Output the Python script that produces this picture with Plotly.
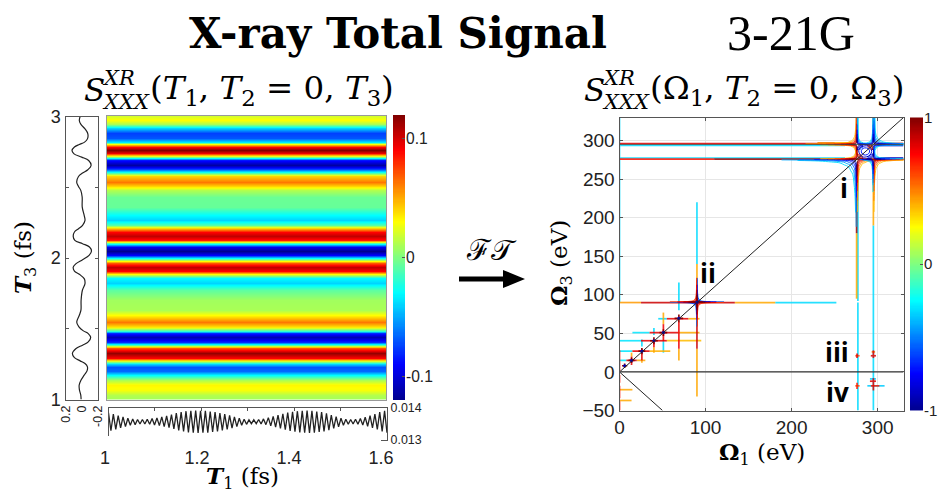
import numpy as np
import plotly.graph_objects as go

W, H = 941, 492

# ---- left panel data ----
T3_FS = [1.000,1.031,1.066,1.101,1.136,1.172,1.202,1.231,1.254,1.273,1.296,1.325,1.360,1.384,1.407,1.438,1.466,1.485,
         1.513,1.548,1.595,1.631,1.701,1.772,1.819,1.854,1.885,1.908,1.936,1.960,1.988,2.019,2.049,2.078,2.101,2.125,
         2.153,2.184,2.207,2.231,2.266,2.301,2.360,2.431,2.478,2.506,2.536,2.576,2.600,2.624,2.654,2.689,2.713,2.736,
         2.760,2.784,2.802,2.819,2.842,2.878,2.913,2.944,2.972,3.000]
SIGNAL_T3 = [.008,.012,.028,.032,.010,-.030,-.065,-.070,-.040,.020,.090,.115,.070,-.010,-.080,-.110,-.080,-.020,
             .035,.062,.030,.010,.008,-.008,-.040,-.030,.030,.090,.105,.070,-.010,-.090,-.120,-.095,-.010,.085,
             .105,.090,.040,-.010,-.040,-.030,-.006,-.005,.012,.040,.062,.040,-.010,-.075,-.115,-.085,.000,.095,
             .120,.090,.030,-.035,-.070,-.075,-.040,.010,.030,.020]
T1_RANGE = [1.0, 1.6]
T1_TICKS = [1, 1.2, 1.4, 1.6]
T1_LABELS = ["1", "1.2", "1.4", "1.6"]
STRIP_TOP = [13.85,13.81,13.76,13.72,13.68,13.66,13.64,13.64,13.65,13.67,13.69,13.72,13.75,13.79,13.84,13.87,13.90,13.91,13.92,13.91,
             13.91,13.89,13.87,13.84,13.81,13.77,13.72,13.68,13.65,13.63,13.63,13.64,13.66,13.70,13.74,13.78,13.82,13.86,13.88,13.90,
             13.91,13.92,13.91,13.89,13.87,13.83,13.78,13.73,13.68,13.65,13.64,13.65,13.67,13.71,13.76,13.81,13.87,13.91]
STRIP_BOTTOM = [13.29,13.33,13.38,13.42,13.46,13.48,13.50,13.50,13.49,13.47,13.45,13.42,13.39,13.35,13.30,13.27,13.24,13.23,13.22,13.23,
                13.23,13.25,13.27,13.30,13.33,13.37,13.42,13.46,13.49,13.51,13.51,13.50,13.48,13.44,13.40,13.36,13.32,13.28,13.26,13.24,
                13.23,13.22,13.23,13.25,13.27,13.31,13.36,13.41,13.46,13.49,13.50,13.49,13.47,13.43,13.38,13.33,13.27,13.23]

# ---- right panel data: (fixed coordinate, start, end, signal amplitude) ----
H_SEGMENTS = [
    (90,0,25,.45),(90,25,134,.85),(90,134,181,.42),(90,181,252,-.32),
    (69,45,55,-.32),(69,55,80,.8),(69,80,93,.42),
    (51,15,35,-.3),(51,35,68,.8),(51,68,93,.42),
    (40.5,0,25,-.3),(40.5,25,55,.8),(40.5,55,95,.38),
    (27,0,15,-.3),(27,15,35,.8),(27,35,59,.4),
    (15,0,8,-.3),(15,8,20,.85),(15,20,30,.42),
    (-23,0,15,.42),(-37,0,14,.42),
    (276,0,110,.72),(276,110,262,.95),(276,262,330,.95),(277.5,0,262,-.32),(277.5,300,330,-.9),
    (296.3,0,250,.82),(297,230,270,.42),(293.7,0,262,-.32),(296.3,300,330,.88),(293.7,300,330,-.9),
    (21,274,279,.6),(21,292,298,.8),(26,293,297,.5),
    (-18,274,279,.6),(-18,288,308,-.35),(-18,292,302,.7),(-12,291,298,.8),(-9,291,298,-.35),
]
V_SEGMENTS = [
    (90,140,220,-.32),(90,120,140,.42),(90,30,120,.85),(90,-32,30,.42),
    (69,80,116,-.32),(69,30,65,.78),(69,15,30,.42),
    (51,62,77,.42),(51,40,62,.78),(51,25,40,-.32),
    (40,48,57,-.32),(40,32,40,.78),(40,25,32,.42),
    (26,33,42,-.32),(26,15,30,.8),(26,12,15,.42),
    (14,20,25,.42),(14,9,20,.8),
    (0,90,330,-.32),(0,0,28,.72),(0,-14,-4,.72),(0,-34,-18,.72),(0,-50,-38,.72),
    (277,-50,90,-.32),(277,92,262,-.32),(275.5,95,180,.42),(275.5,180,268,.95),(277,298,330,-.32),(275.5,298,330,.8),
    (295,-50,190,-.32),(295,190,245,.42),(295,245,270,.88),(296.5,298,330,-.32),(295,298,330,.92),
    (276,18,24,.8),(295,18,28,.8),(276,-22,-14,.7),(295,-24,-8,.8),
]
ARM_DX = [0.5,0.7,1,1.5,2,3,4,6,8,12,18,28,45]
ARM_DY = [45,28,18,12,8,6,4,3,2,1.5,1,0.7,0.5]
LEVEL_SCALE = [1.9,1.5,1.15,.85,.6,.4]
NEG_LEVELS = [-.32,-.42,-.55,-.7,-.85,-1]
POS_LEVELS = [.38,.5,.65,.8,.9,1]
# centre x, centre y, x side, y side, sign, reach in x, reach in y, spread
CROSSINGS = [
    (276,276,-1,-1,-1,99,99,1.3),(276,276,1,-1,1,99,99,.8),(276,276,-1,1,1,99,17,.5),(276,276,1,1,1,8,8,1),
    (295,295,1,1,-1,99,99,.8),(295,295,-1,1,-1,17,99,.5),(295,295,1,-1,-1,99,17,.5),(295,295,-1,-1,1,8,8,1),
    (276,295,-1,1,1,99,99,.7),(276,295,1,1,-1,17,99,.5),(276,295,-1,-1,1,99,17,.5),(276,295,1,-1,-1,8,8,1),
    (295,276,1,-1,1,99,99,.8),(295,276,-1,-1,-1,17,99,.5),(295,276,1,1,-1,99,17,.5),(295,276,-1,1,-1,8,8,1),
]
PEAK_90_SCALE = [.7,.5,.35,.22]
ELLIPSE_X = [278,280,284,289,292,293,291,287,282,279,278]
ELLIPSE_Y = [287,291,293,293,290,286,281,279,279,283,287]
ELLIPSE2_X = [281,283,287,290,290.5,288,284,281.5,281]
ELLIPSE2_Y = [287,290,290.5,288.5,285,282,281.5,284,287]
DIAG_PEAKS_X = [6,14,26,40,51,69,90]
DIAG_PEAKS_Y = [8,15,27,40.5,51,69.5,90.5]
DIAG_ARM = [3,3.5,4,4.5,4.5,5,7]
SPEC_XTICKS = [0,100,200,300]
SPEC_YTICKS = [-50,0,50,100,150,200,250,300]
CBAR1_TICKS = [-.1, 0, .1]
CBAR1_LABELS = ["-0.1", "0", "0.1"]
CBAR2_TICKS = [-1, 0, 1]
CBAR2_LABELS = ["-1", "0", "1"]
FONT_SANS = "Liberation Sans"
FONT_SERIF = "DejaVu Serif"
JET = [[0,"#00008f"],[.125,"#0000ff"],[.375,"#00ffff"],[.625,"#ffff00"],[.875,"#ff0000"],[1,"#800000"]]


def jet(a):
    t = (a + 1) / 2
    rgb = [(0,0,143),(0,0,255),(0,255,255),(255,255,0),(255,0,0),(128,0,0)]
    pos = [c[0] for c in JET]
    ch = [int(np.interp(t, pos, [c[i] for c in rgb])) for i in range(3)]
    return f"rgb({ch[0]},{ch[1]},{ch[2]})"


def px_x(a, b):
    return [a / W, b / W]


def px_y(top, bottom):
    return [1 - bottom / H, 1 - top / H]


fig = go.Figure()

# heat map
fig.add_trace(go.Heatmap(x=T1_RANGE, y=T3_FS, z=[[v, v] for v in SIGNAL_T3], colorscale=JET, zmin=-.12, zmax=.12,
                         zsmooth="best", xaxis="x", yaxis="y", showscale=False, hoverinfo="skip"))
# left strip
fig.add_trace(go.Scatter(x=SIGNAL_T3, y=T3_FS, mode="lines", line=dict(color="#222", width=1.2, shape="spline"),
                         xaxis="x2", yaxis="y2", showlegend=False))
# bottom strip
strip_v = []
for a, b in zip(STRIP_TOP, STRIP_BOTTOM):
    strip_v += [a * 1e-3, b * 1e-3]
fig.add_trace(go.Scatter(x=list(np.linspace(1, 1.6, len(strip_v))), y=strip_v, mode="lines",
                         line=dict(color="#222", width=1.3), xaxis="x3", yaxis="y3", showlegend=False))
# hidden trace that carries the shifted T1 labels
fig.add_trace(go.Scatter(x=T1_RANGE, y=[0, 1], mode="lines", line=dict(width=0), xaxis="x5", yaxis="y5",
                         showlegend=False, hoverinfo="skip"))
# colour bars as small heat maps on their own axes
cb1 = np.linspace(-.12, .12, 256)
fig.add_trace(go.Heatmap(x=[0, 1], y=list(cb1), z=[[v, v] for v in cb1], colorscale=JET, zmin=-.12, zmax=.12,
                         showscale=False, xaxis="x6", yaxis="y6", hoverinfo="skip"))
cb2 = np.linspace(-1, 1, 256)
fig.add_trace(go.Heatmap(x=[0, 1], y=list(cb2), z=[[v, v] for v in cb2], colorscale=JET, zmin=-1, zmax=1,
                         showscale=False, xaxis="x7", yaxis="y7", hoverinfo="skip"))

# spectrum: group everything by amplitude
groups = {}


def add_xy(a, xs, ys):
    g = groups.setdefault(a, ([], []))
    g[0].extend(list(xs) + [None])
    g[1].extend(list(ys) + [None])


for y, x0, x1, a in H_SEGMENTS:
    add_xy(a, [x0, x1], [y, y])
for x, y0, y1, a in V_SEGMENTS:
    add_xy(a, [x, x], [y0, y1])
for k, (a) in sorted(groups.items(), key=lambda kv: abs(kv[0])):
    fig.add_trace(go.Scatter(x=a[0], y=a[1], mode="lines", opacity=.85, line=dict(color=jet(k), width=1.7),
                             xaxis="x4", yaxis="y4", showlegend=False, hoverinfo="skip"))

# contour arms
for cx, cy, sx, sy, sign, rx, ry, spread in CROSSINGS:
    levels = NEG_LEVELS if sign < 0 else POS_LEVELS
    for sc0, amp in zip(LEVEL_SCALE, levels):
        sc = sc0 * spread
        xs, ys = [], []
        for dx, dy in zip(ARM_DX, ARM_DY):
            if dx * sc <= rx and dy * sc <= ry:
                xs.append(cx + sx * dx * sc)
                ys.append(cy + sy * dy * sc)
        if len(xs) > 1:
            fig.add_trace(go.Scatter(x=xs, y=ys, mode="lines", line=dict(color=jet(amp), width=.9, shape="spline"),
                                     xaxis="x4", yaxis="y4", showlegend=False, hoverinfo="skip"))
for sx, sy, sign in [(-1, -1, -1), (1, 1, -1), (1, -1, 1), (-1, 1, 1)]:
    levels = NEG_LEVELS[2:] if sign < 0 else POS_LEVELS[2:]
    for sc, amp in zip(PEAK_90_SCALE, levels):
        fig.add_trace(go.Scatter(x=[90 + sx * d * sc for d in ARM_DX], y=[90.5 + sy * d * sc for d in ARM_DY],
                                 mode="lines", line=dict(color=jet(amp), width=1, shape="spline"),
                                 xaxis="x4", yaxis="y4", showlegend=False, hoverinfo="skip"))
fig.add_trace(go.Scatter(x=ELLIPSE_X, y=ELLIPSE_Y, mode="lines", line=dict(color=jet(-.9), width=1, shape="spline"),
                         xaxis="x4", yaxis="y4", showlegend=False, hoverinfo="skip"))
fig.add_trace(go.Scatter(x=ELLIPSE2_X, y=ELLIPSE2_Y, mode="lines", line=dict(color=jet(-.7), width=1, shape="spline"),
                         xaxis="x4", yaxis="y4", showlegend=False, hoverinfo="skip"))
# diagonal peak stars
for px, py, arm in zip(DIAG_PEAKS_X, DIAG_PEAKS_Y, DIAG_ARM):
    fig.add_trace(go.Scatter(x=[px - arm, px + arm, None, px, px], y=[py, py, None, py - arm, py + arm], mode="lines",
                             line=dict(color=jet(.98), width=1.6), xaxis="x4", yaxis="y4", showlegend=False,
                             hoverinfo="skip"))
    fig.add_trace(go.Scatter(x=[px], y=[py], mode="markers", marker=dict(color=jet(-.9), size=3),
                             xaxis="x4", yaxis="y4", showlegend=False, hoverinfo="skip"))
# reference lines
fig.add_trace(go.Scatter(x=[0, 330], y=[0, 330], mode="lines", line=dict(color="#222", width=1), xaxis="x4", yaxis="y4",
                         showlegend=False, hoverinfo="skip"))
fig.add_trace(go.Scatter(x=[0, 50], y=[0, -50], mode="lines", line=dict(color="#222", width=1), xaxis="x4", yaxis="y4",
                         showlegend=False, hoverinfo="skip"))
fig.add_trace(go.Scatter(x=[0, 330], y=[0, 0], mode="lines", line=dict(color="#333", width=1.3), xaxis="x4", yaxis="y4",
                         showlegend=False, hoverinfo="skip"))
fig.add_trace(go.Scatter(x=[0, 330], y=[295, 295], mode="lines", line=dict(color="#444", width=.8), xaxis="x4", yaxis="y4",
                         showlegend=False, hoverinfo="skip"))

FRAME = "#555"
GRAY = "#999"
tick_font = dict(family=FONT_SANS, size=18, color="#222")
spec_font = dict(family=FONT_SANS, size=19, color="#222")
small_font = dict(family=FONT_SANS, size=12.4, color="#222")
cb_font = dict(family=FONT_SANS, size=15.6, color="#222")
hidden = dict(showticklabels=False, ticks="", showline=False, showgrid=False, zeroline=False)
layout = dict(
    width=W, height=H, margin=dict(l=0, r=0, t=0, b=0, autoexpand=False), paper_bgcolor="white", plot_bgcolor="white",
    showlegend=False,
    xaxis=dict(domain=px_x(106.5, 386), range=[1, 1.6], anchor="y", showticklabels=False, ticks="", showline=True,
               mirror=True, linecolor=GRAY, linewidth=1, showgrid=False, zeroline=False),
    yaxis=dict(domain=px_y(116, 399.5), range=[1, 3], anchor="x", showticklabels=False, ticks="", showline=True,
               mirror=True, linecolor=GRAY, linewidth=1, showgrid=False, zeroline=False),
    xaxis2=dict(domain=px_x(65.5, 98), range=[.2, -.2], anchor="y2", tickvals=[.2, 0, -.2], ticktext=["0.2", "0", "-0.2"],
                tickangle=-90, tickfont=small_font, ticks="", showline=True, mirror=True, linecolor=FRAME, linewidth=1.2,
                showgrid=False, zeroline=False),
    yaxis2=dict(domain=px_y(116.5, 399.5), range=[1, 3], anchor="x2", tickvals=[1, 2, 3], tickfont=tick_font,
                ticks="inside", ticklen=3, tickcolor=FRAME, minor=dict(tickvals=[1.5, 2.5], ticks="inside", ticklen=3,
                tickcolor=FRAME), showline=True, mirror="allticks", linecolor=FRAME, linewidth=1.2, showgrid=False,
                zeroline=False),
    xaxis3=dict(domain=px_x(108.5, 387), range=[1, 1.6], anchor="y3", tickvals=[1.1, 1.2, 1.3, 1.4, 1.5],
                showticklabels=False, ticks="inside", ticklen=3, tickcolor=FRAME, showline=True, mirror="ticks",
                linecolor=FRAME, linewidth=1.2, showgrid=False, zeroline=False),
    yaxis3=dict(domain=px_y(408, 440), range=[.013, .014], anchor="x3", side="right", tickvals=[.013, .014],
                ticktext=["0.013", "0.014"], tickfont=small_font, ticks="", showline=True, mirror=True, linecolor=FRAME,
                linewidth=1.2, showgrid=False, zeroline=False),
    xaxis5=dict(domain=px_x(105, 381), range=[1, 1.6], anchor="y5", tickvals=T1_TICKS, ticktext=T1_LABELS,
                tickfont=tick_font, ticks="", showline=False, showgrid=False, zeroline=False),
    yaxis5=dict(domain=px_y(436, 445), range=[0, 1], anchor="x5", **hidden),
    xaxis4=dict(domain=px_x(619.5, 903.5), range=[0, 330], anchor="y4", tickvals=SPEC_XTICKS, tickfont=spec_font,
                ticks="inside", ticklen=3, tickcolor=FRAME, showline=True, mirror="ticks", linecolor=FRAME, linewidth=1,
                showgrid=True, gridcolor="#e6e6e6", zeroline=False),
    yaxis4=dict(domain=px_y(117.5, 410.5), range=[-50, 330], anchor="x4", tickvals=SPEC_YTICKS, tickfont=spec_font,
                ticks="inside", ticklen=3, tickcolor=FRAME, showline=True, mirror="ticks", linecolor=FRAME, linewidth=1,
                showgrid=True, gridcolor="#e6e6e6", zeroline=False),
    xaxis6=dict(domain=px_x(393, 405), range=[0, 1], anchor="y6", **hidden),
    yaxis6=dict(domain=px_y(115, 400), range=[-.12, .12], anchor="x6", side="right", tickvals=CBAR1_TICKS,
                ticktext=CBAR1_LABELS, tickfont=cb_font, ticks="inside", ticklen=3, tickcolor=FRAME, showline=False,
                showgrid=False, zeroline=False),
    xaxis7=dict(domain=px_x(910, 923), range=[0, 1], anchor="y7", **hidden),
    yaxis7=dict(domain=px_y(117.5, 410.5), range=[-1, 1], anchor="x7", side="right", tickvals=CBAR2_TICKS,
                ticktext=CBAR2_LABELS, tickfont=dict(family=FONT_SANS, size=15, color="#222"), ticks="inside", ticklen=3,
                tickcolor=FRAME, showline=False, showgrid=False, zeroline=False),
)
fig.update_layout(**layout)


def note(text, x, y, size, family=FONT_SERIF, color="black", xanchor="center", angle=0):
    fig.add_annotation(text=text, x=x / W, y=1 - y / H, xref="paper", yref="paper", showarrow=False, xanchor=xanchor,
                       yanchor="middle", font=dict(family=family, size=size, color=color), textangle=angle)


note("<b>X-ray Total Signal</b>", 398, 33, 42)
note("3-21G", 791, 33, 50, family="Liberation Serif")
# left panel title
note("<i>S</i>", 82, 90, 31, xanchor="left")
note("<i>XR</i>", 100, 78, 21, xanchor="left")
note("<i>XXX</i>", 100, 102, 21, xanchor="left")
note("(<i>T</i><sub>1</sub>, <i>T</i><sub>2</sub> = 0, <i>T</i><sub>3</sub>)", 148, 90, 32.5, xanchor="left")
# right panel title
note("<i>S</i>", 582, 90, 31, xanchor="left")
note("<i>XR</i>", 600, 78, 21, xanchor="left")
note("<i>XXX</i>", 600, 102, 21, xanchor="left")
note("(Ω<sub>1</sub>, <i>T</i><sub>2</sub> = 0, Ω<sub>3</sub>)", 648, 90, 32.5, xanchor="left")
# axis titles
note("<b><i>T</i></b><sub>1</sub> (fs)", 242, 477, 23)
note("<b><i>T</i></b><sub>3</sub> (fs)", 24, 258, 23, angle=-90)
note("<b>Ω</b><sub>1</sub> (eV)", 762, 453, 23)
note("<b>Ω</b><sub>3</sub> (eV)", 560, 263, 23, angle=-90)
# peak labels
for txt, x, y in [("i", 844, 188), ("ii", 708, 273), ("iii", 837, 352), ("iv", 837, 392)]:
    note(f"<b>{txt}</b>", x, y, 26, family="Open Sans")
# Fourier arrow
note("ℱ𝒯", 491, 250, 29, family="Liberation Serif")
fx0, fx1, fy = 459 / W, 525 / W, 1 - 279 / H
fig.add_shape(type="path", xref="paper", yref="paper", fillcolor="black", line=dict(width=0),
              path=f"M {fx0} {fy + 2.5 / H} L {503 / W} {fy + 2.5 / H} L {503 / W} {fy + 9 / H} L {fx1} {fy} "
                   f"L {503 / W} {fy - 9 / H} L {503 / W} {fy - 2.5 / H} L {fx0} {fy - 2.5 / H} Z")

fig.write_html("out.html", config=dict(displayModeBar=False),
               post_script="document.body.style.margin='0';document.documentElement.style.overflow='hidden';")
